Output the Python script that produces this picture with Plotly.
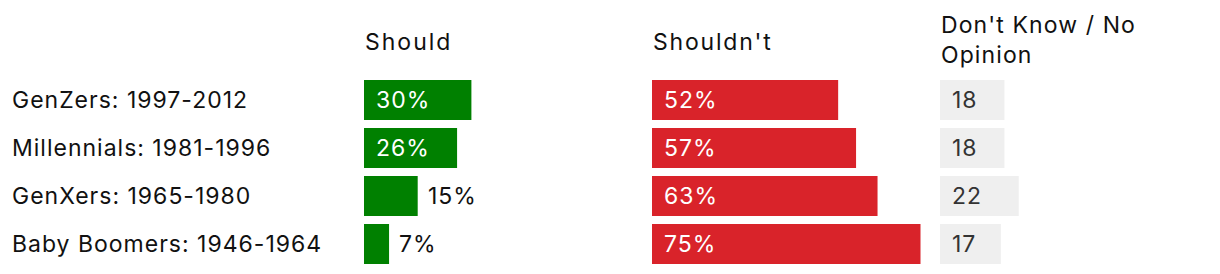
import plotly.graph_objects as go

groups = ["GenZers: 1997-2012", "Millennials: 1981-1996", "GenXers: 1965-1980", "Baby Boomers: 1946-1964"]
should = [30, 26, 15, 7]
shouldnt = [52, 57, 63, 75]
dont_know = [18, 18, 22, 17]
headers = ["Should", "Shouldn't", "Don't Know / No<br>Opinion"]

W, H = 1220, 274
FONT = "Inter"
FS = 23
GREEN = "#008000"
RED = "#d9232a"
GRAY = "#efefef"

def sp(t, ls):
    return f'<span style="letter-spacing:{ls}px">{t}</span>'

# column start pixel and pixel width
cols = [(364, 286), (652, 286), (940, 280)]
PX_PER = 3.58

fig = go.Figure()
series = [(should, GREEN, "x"), (shouldnt, RED, "x2"), (dont_know, GRAY, "x3")]
for (vals, color, xa) in series:
    fig.add_trace(go.Bar(
        x=vals, y=groups, orientation="h", marker=dict(color=color, line=dict(width=0)),
        xaxis=xa, yaxis="y", hoverinfo="skip", showlegend=False,
    ))

layout = dict(
    width=W, height=H, margin=dict(l=0, r=0, t=76, b=6),
    paper_bgcolor="white", plot_bgcolor="white",
    bargap=8 / 48,
    font=dict(family=FONT, size=FS, color="black"),
    yaxis=dict(categoryorder="array", categoryarray=groups, autorange="reversed",
               showticklabels=False, showgrid=False, zeroline=False, showline=False, fixedrange=True),
)
for i, (start, width) in enumerate(cols):
    key = "xaxis" if i == 0 else f"xaxis{i+1}"
    layout[key] = dict(domain=[start / W, (start + width) / W], range=[0, width / PX_PER],
                       showticklabels=False, showgrid=False, zeroline=False, showline=False,
                       anchor="y", fixedrange=True)
fig.update_layout(**layout)

ann = []
for g in groups:
    ann.append(dict(x=10 / W, xref="paper", y=g, yref="y", text=sp(g, 1), showarrow=False,
                    xanchor="left", yanchor="middle", font=dict(size=FS, color="#111")))

def add_labels(vals, xref, suffix, inside_min, inside_color, outside_color):
    for g, v in zip(groups, vals):
        if v >= inside_min:
            ann.append(dict(x=0, xref=xref, y=g, yref="y", text=sp(f"{v}{suffix}", 1), xshift=10,
                            showarrow=False, xanchor="left", yanchor="middle",
                            font=dict(size=FS, color=inside_color)))
        else:
            ann.append(dict(x=v, xref=xref, y=g, yref="y", text=sp(f"{v}{suffix}", 1), xshift=8,
                            showarrow=False, xanchor="left", yanchor="middle",
                            font=dict(size=FS, color=outside_color)))

add_labels(should, "x", "%", 20, "white", "#111")
add_labels(shouldnt, "x2", "%", 20, "white", "#111")
add_labels(dont_know, "x3", "", 0, "#333", "#333")

hdr_y = [42, 42, 40]
hdr_ls = [2, 1.8, 1.1]
for (start, _), h, yy, ls in zip(cols, headers, hdr_y, hdr_ls):
    txt = "<br>".join(sp(p, ls) for p in h.split("<br>"))
    ann.append(dict(x=(start - 1) / W, xref="paper", y=1 - yy / H, yref="paper", yanchor="middle",
                    text=txt, showarrow=False, xanchor="left", align="left",
                    font=dict(size=FS, color="#111")))
fig.update_layout(annotations=ann)
# headers: convert from full-canvas fraction to plot-area paper fraction
pa_top, pa_bot = 76, H - 6
for a in fig.layout.annotations:
    if a.yref == "paper":
        py = (1 - a.y) * H
        a.y = (pa_bot - py) / (pa_bot - pa_top)

fig.write_html("out.html")
